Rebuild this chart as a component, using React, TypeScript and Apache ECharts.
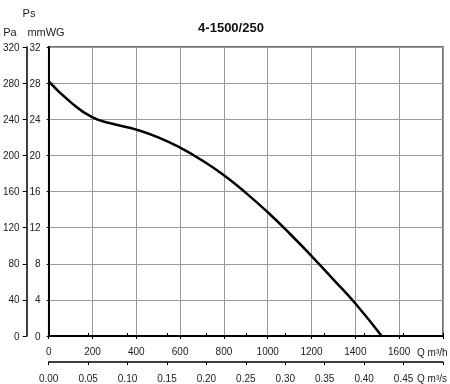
import React, { useEffect, useRef } from "react";
import * as echarts from "echarts";

const flowM3h = [0, 100, 200, 300, 400, 500, 600, 700, 800, 900, 1000, 1100, 1200, 1300, 1400, 1520];
const pressureMmWG = [28.2, 25.9, 24.2, 23.45, 22.85, 22.0, 20.85, 19.45, 17.8, 15.85, 13.7, 11.35, 8.85, 6.25, 3.6, 0];

const FONT = '"Liberation Sans", Arial, sans-serif';
const TXT = "#222";

export default function App() {
  const ref = useRef<HTMLDivElement>(null);
  useEffect(() => {
    if (!ref.current) return;
    const chart = echarts.init(ref.current, undefined, { renderer: "svg" });
    const labelStyle = { fontFamily: FONT, fontSize: 10, color: TXT };
    chart.setOption({
      animation: false,
      grid: {
        left: 48,
        top: 47,
        right: 7,
        bottom: 48,
        show: true,
        borderColor: "#444",
        borderWidth: 1.5,
      },
      xAxis: [
        {
          type: "value",
          min: 0,
          max: 1800,
          interval: 200,
          position: "bottom",
          axisLine: { show: true, onZero: false, lineStyle: { color: "#000", width: 2 } },
          axisTick: { show: true, length: 3, lineStyle: { color: "#000" } },
          axisLabel: {
            ...labelStyle,
            margin: 10,
            formatter: (v: number) => (v >= 1800 ? "" : String(v)),
          },
          splitLine: { show: true, lineStyle: { color: "#999", width: 1 } },
        },
        {
          type: "value",
          min: 0,
          max: 0.5,
          interval: 0.05,
          position: "bottom",
          offset: 26,
          axisLine: { show: true, onZero: false, lineStyle: { color: "#000", width: 1.5 } },
          axisTick: { show: true, length: 3, inside: false, lineStyle: { color: "#000" } },
          axisLabel: {
            ...labelStyle,
            margin: 11,
            formatter: (v: number) => (v >= 0.499 ? "" : v.toFixed(2)),
          },
          splitLine: { show: false },
        },
        {
          type: "value",
          min: 0,
          max: 0.5,
          interval: 0.05,
          position: "bottom",
          offset: 26,
          axisLine: { show: false },
          axisTick: { show: true, length: 3, inside: true, lineStyle: { color: "#000" } },
          axisLabel: { show: false },
          splitLine: { show: false },
        },
      ],
      yAxis: [
        {
          type: "value",
          min: 0,
          max: 32,
          interval: 4,
          position: "left",
          axisLine: { show: true, onZero: false, lineStyle: { color: "#000", width: 2 } },
          axisTick: { show: true, length: 2, lineStyle: { color: "#000" } },
          axisLabel: { ...labelStyle, margin: 8 },
          splitLine: { show: true, lineStyle: { color: "#999", width: 1 } },
        },
        {
          type: "value",
          min: 0,
          max: 320,
          interval: 40,
          position: "left",
          offset: 22,
          axisLine: { show: true, onZero: false, lineStyle: { color: "#000", width: 1.5 } },
          axisTick: { show: true, length: 4, lineStyle: { color: "#000" } },
          axisLabel: { ...labelStyle, margin: 7 },
          splitLine: { show: false },
        },
      ],
      graphic: [
        {
          type: "text",
          x: 231,
          y: 27,
          style: {
            text: "4-1500/250",
            fontFamily: FONT,
            fontWeight: "bold",
            fontSize: 13,
            fill: "#111",
            align: "center",
            verticalAlign: "middle",
          },
        },
        {
          type: "text",
          x: 29,
          y: 13,
          style: { text: "Ps", fontFamily: FONT, fontSize: 11, fill: TXT, align: "center", verticalAlign: "middle" },
        },
        {
          type: "text",
          x: 10,
          y: 32,
          style: { text: "Pa", fontFamily: FONT, fontSize: 11, fill: TXT, align: "center", verticalAlign: "middle" },
        },
        {
          type: "text",
          x: 46,
          y: 32,
          style: { text: "mmWG", fontFamily: FONT, fontSize: 11, fill: TXT, align: "center", verticalAlign: "middle" },
        },
        {
          type: "text",
          x: 417,
          y: 352,
          style: { text: "Q m³/h", fontFamily: FONT, fontSize: 10, fill: TXT, align: "left", verticalAlign: "middle" },
        },
        {
          type: "text",
          x: 417,
          y: 378,
          style: { text: "Q m³/s", fontFamily: FONT, fontSize: 10, fill: TXT, align: "left", verticalAlign: "middle" },
        },
      ],
      series: [
        {
          type: "line",
          xAxisIndex: 0,
          yAxisIndex: 0,
          data: flowM3h.map((q, i) => [q, pressureMmWG[i]]),
          smooth: 0.5,
          showSymbol: false,
          lineStyle: { color: "#000", width: 2.5 },
        },
      ],
    });
    return () => chart.dispose();
  }, []);
  return <div ref={ref} style={{ position: "fixed", left: 0, top: 0, width: 450, height: 384 }} />;
}
